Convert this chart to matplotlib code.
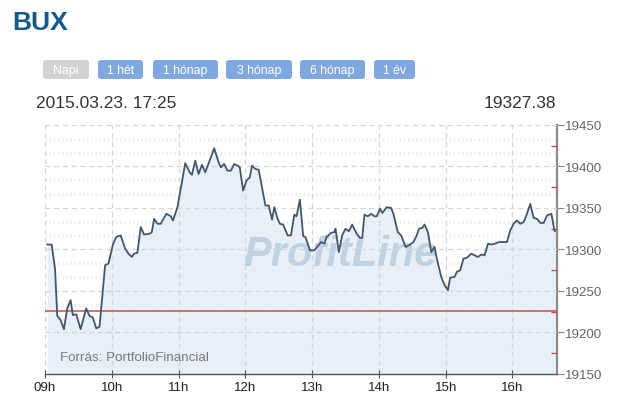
#!/usr/bin/env python3
"""
BUX intraday chart (2015.03.23.) in the ProfitLine style.
"""

import matplotlib
matplotlib.use('Agg')
import matplotlib.pyplot as plt
import numpy as np
from matplotlib.patches import FancyBboxPatch
from matplotlib.ticker import MultipleLocator, FixedLocator

# minutes after 09:00 and index level
minutes = [2, 6, 9, 11, 14, 17, 20, 23, 25, 28, 32, 37, 40, 43, 46, 49, 54, 57,
           61, 64, 68, 72, 75, 78, 80, 83, 86, 89, 94, 96, 98, 101, 104, 109, 113,
           115, 119, 123, 126, 130, 132, 135, 138, 141, 144, 152, 156, 158, 161,
           164, 167, 170, 173, 175, 178, 181, 184, 186, 189, 192, 198, 201, 204,
           206, 209, 211, 214, 218, 221, 224, 226, 229, 232, 234, 238, 242, 245,
           248, 251, 253, 257, 260, 261, 264, 267, 270, 273, 276, 280, 283, 285,
           287, 290, 293, 296, 298, 301, 303, 307, 311, 313, 317, 320, 324, 328,
           331, 334, 336, 339, 341, 344, 347, 350, 352, 356, 359, 362, 364, 368,
           370, 373, 376, 379, 383, 386, 389, 392, 395, 398, 401, 404, 408, 412,
           415, 418, 421, 424, 427, 430, 433, 436, 439, 442, 445, 448, 451, 455,
           457, 458]
values = [19306, 19306, 19277, 19220, 19215, 19204, 19229, 19239, 19221, 19222,
          19204, 19229, 19220, 19218, 19205, 19207, 19281, 19283, 19306, 19315,
          19317, 19301, 19295, 19291, 19295, 19296, 19327, 19318, 19319, 19321,
          19337, 19331, 19331, 19343, 19340, 19335, 19351, 19381, 19404, 19393,
          19390, 19407, 19391, 19402, 19393, 19422, 19405, 19399, 19403, 19395,
          19395, 19403, 19401, 19399, 19371, 19383, 19387, 19401, 19397, 19396,
          19353, 19353, 19336, 19351, 19337, 19331, 19330, 19317, 19317, 19342,
          19340, 19360, 19316, 19315, 19299, 19299, 19304, 19309, 19307, 19315,
          19320, 19321, 19325, 19297, 19317, 19325, 19322, 19330, 19319, 19314,
          19314, 19342, 19340, 19343, 19340, 19340, 19349, 19344, 19351, 19350,
          19343, 19321, 19317, 19303, 19306, 19309, 19317, 19325, 19326, 19330,
          19321, 19297, 19303, 19289, 19267, 19257, 19251, 19266, 19267, 19273,
          19275, 19289, 19290, 19295, 19293, 19291, 19294, 19293, 19307, 19306,
          19307, 19309, 19309, 19309, 19323, 19331, 19335, 19331, 19333, 19343,
          19355, 19338, 19337, 19332, 19332, 19341, 19343, 19328, 19322]
prev_close = 19226

hour_ticks = [0, 60, 120, 180, 240, 300, 360, 420]
hour_labels = ['09h', '10h', '11h', '12h', '13h', '14h', '15h', '16h']
y_min, y_max = 19150, 19450

buttons = ['Napi', '1 hét', '1 hónap', '3 hónap', '6 hónap', '1 év']
title = 'BUX'
timestamp = '2015.03.23. 17:25'
last_value = '19327.38'

FONT = 'Liberation Sans'
plt.rcParams['font.family'] = [FONT, 'DejaVu Sans']

fig = plt.figure(figsize=(6.26, 4.10), dpi=100)
fig.patch.set_facecolor('white')

W, H = 626, 410
ax = fig.add_axes([45 / W, 1 - 375 / H, (557 - 45) / W, (375 - 126) / H])
ax.set_facecolor('white')

# area + line
ax.fill_between(minutes, values, y_min, color='#e7eff7', zorder=1, linewidth=0)
ax.plot(minutes, values, color='#44566a', linewidth=1.3, zorder=4)
ax.axhline(prev_close, color='#d24a4a', linewidth=1.1, zorder=3)

# faint sub rows between the major levels
sub_rows = [v for v in np.arange(y_min, y_max, 50 / 3) if (v - y_min) % 50 > 1]
ax.hlines(sub_rows, 0, 460, colors='#ebedf0', linewidth=2.5,
          linestyles=(0, (0.4, 0.8)), zorder=1.2)

ax.set_xlim(0, 460)
ax.set_ylim(y_min, y_max)

ax.xaxis.set_major_locator(FixedLocator(hour_ticks))
ax.set_xticklabels(hour_labels)
ax.yaxis.set_major_locator(MultipleLocator(50))
ax.yaxis.set_minor_locator(MultipleLocator(25))
ax.yaxis.tick_right()

ax.grid(True, which='major', color='#d6d6d6', linestyle=(0, (4, 3)), linewidth=0.9)
ax.set_axisbelow(False)

for side in ['top', 'left']:
    ax.spines[side].set_visible(False)
ax.spines['right'].set_color('#8a8a8a')
ax.spines['right'].set_linewidth(1.6)
ax.spines['bottom'].set_color('#555555')
ax.spines['bottom'].set_linewidth(1.0)

ax.tick_params(axis='x', direction='inout', length=6, color='#555555',
               labelsize=9.6, labelcolor='#222222', pad=2)
ax.tick_params(axis='y', which='major', direction='out', length=5,
               color='#8a8a8a', labelsize=9.6, labelcolor='#666666', pad=1)
ax.tick_params(axis='y', which='minor', direction='in', length=4,
               color='#d24a4a', width=1)

# watermark and source
ax.text(0.576, 0.48, 'ProfitLine', transform=ax.transAxes, ha='center', va='center',
        fontsize=30, fontweight='heavy', fontstyle='italic', color='#b7cddf',
        alpha=0.85, zorder=2)
ax.text(0.029, 0.068, 'Forrás: PortfolioFinancial', transform=ax.transAxes,
        ha='left', va='center', fontsize=9.6, color='#7a7a7a', zorder=5)

# header overlay in pixel coordinates
ov = fig.add_axes([0, 0, 1, 1], facecolor='none')
ov.set_xlim(0, W)
ov.set_ylim(H, 0)
ov.axis('off')

ov.text(12, 30, title, fontsize=19, fontweight='bold', color='#14598c',
        ha='left', va='baseline')

btn_left = [43, 98, 153, 226, 300, 374]
btn_right = [89, 143, 218, 292, 365, 415]
for i, label in enumerate(buttons):
    face = '#d2d2d2' if i == 0 else '#7fa8e0'
    x0, x1 = btn_left[i], btn_right[i]
    ov.add_patch(FancyBboxPatch((x0, 61), x1 - x0, 19,
                                boxstyle='round,pad=0,rounding_size=3',
                                facecolor=face, edgecolor='none'))
    ov.text((x0 + x1) / 2, 71, label, fontsize=8.8, color='white',
            ha='center', va='center')

ov.text(36, 103, timestamp, fontsize=12.5, color='#333333', ha='left', va='center')
ov.text(556, 103, last_value, fontsize=12.5, color='#333333', ha='right', va='center')

plt.savefig('out.png', dpi=100)
plt.close()
